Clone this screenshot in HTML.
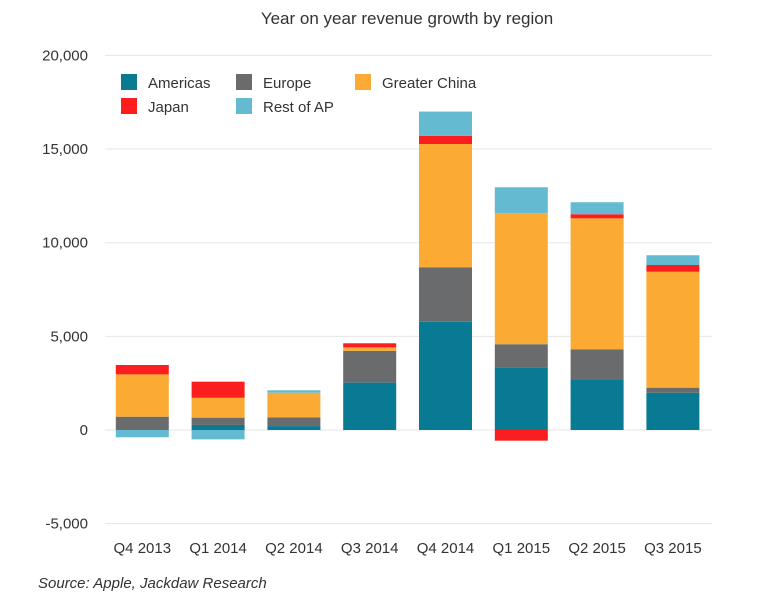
<!DOCTYPE html>
<html><head><meta charset="utf-8"><style>
body{margin:0;background:#fff;font-family:"Liberation Sans",sans-serif;}
svg text{font-family:"Liberation Sans",sans-serif;fill:#333;}
</style></head><body>
<svg width="765" height="602">
<text x="407" y="24" text-anchor="middle" font-size="17">Year on year revenue growth by region</text>
<g id="grid"></g><g id="bars"></g><g id="xl"></g>
<g font-size="15">
<g><rect x="121" y="74" width="16" height="16" fill="#087a94"/><text x="148" y="88">Americas</text></g>
<g><rect x="236" y="74" width="16" height="16" fill="#6a6b6d"/><text x="263" y="88">Europe</text></g>
<g><rect x="355" y="74" width="16" height="16" fill="#fbab33"/><text x="382" y="88">Greater China</text></g>
<g><rect x="121" y="98" width="16" height="16" fill="#fc1e1e"/><text x="148" y="112">Japan</text></g>
<g><rect x="236" y="98" width="16" height="16" fill="#63bad1"/><text x="263" y="112">Rest of AP</text></g>
</g>
<text x="38" y="588" font-size="15" font-style="italic">Source: Apple, Jackdaw Research</text>
</svg>
<script>
const categories=["Q4 2013","Q1 2014","Q2 2014","Q3 2014","Q4 2014","Q1 2015","Q2 2015","Q3 2015"];
const americas=[0,270,210,2530,5780,3330,2670,1990];
const europe=[710,390,470,1700,2910,1250,1640,270];
const china=[2260,1060,1310,180,6580,6990,6990,6190];
const japan=[500,860,0,220,430,-570,220,360];
const restAP=[-390,-500,130,0,1300,1390,640,520];
const yTicks=[-5000,0,5000,10000,15000,20000];
const series=[["americas",americas,"#087a94"],["europe",europe,"#6a6b6d"],["greater-china",china,"#fbab33"],["japan",japan,"#fc1e1e"],["rest-of-ap",restAP,"#63bad1"]];
const NS="http://www.w3.org/2000/svg";
const y=v=>430-v*0.01873;
const x=i=>142.3+i*75.8;
const bw=53;
const grid=document.getElementById('grid');
yTicks.forEach(t=>{
 const l=document.createElementNS(NS,'line');
 l.setAttribute('x1',105);l.setAttribute('x2',712);l.setAttribute('y1',y(t));l.setAttribute('y2',y(t));
 l.setAttribute('stroke','#e6e6e6');l.setAttribute('stroke-width',1);
 
 
 grid.appendChild(l);
 const tx=document.createElementNS(NS,'text');
 tx.setAttribute('x',88);tx.setAttribute('y',y(t)+5);tx.setAttribute('text-anchor','end');tx.setAttribute('font-size',15);
 tx.textContent=t.toLocaleString('en-US');
 
 
 grid.appendChild(tx);
});
const bars=document.getElementById('bars');
categories.forEach((c,i)=>{
 let pos=0,neg=0;
 series.forEach(([n,arr,col])=>{
  const v=arr[i]; if(!v) return;
  let a,b;
  if(v>0){a=pos;b=pos+v;pos=b;}else{a=neg;b=neg+v;neg=b;}
  const r=document.createElementNS(NS,'rect');
  r.setAttribute('x',x(i)-bw/2);r.setAttribute('width',bw);
  r.setAttribute('y',Math.min(y(a),y(b)));r.setAttribute('height',Math.abs(y(a)-y(b)));
  r.setAttribute('fill',col);
  
  
  bars.appendChild(r);
 });
 const t=document.createElementNS(NS,'text');
 t.setAttribute('x',x(i));t.setAttribute('y',553);t.setAttribute('text-anchor','middle');t.setAttribute('font-size',15);
 t.textContent=c;
 
 
 document.getElementById('xl').appendChild(t);
});
</script>
</body></html>
